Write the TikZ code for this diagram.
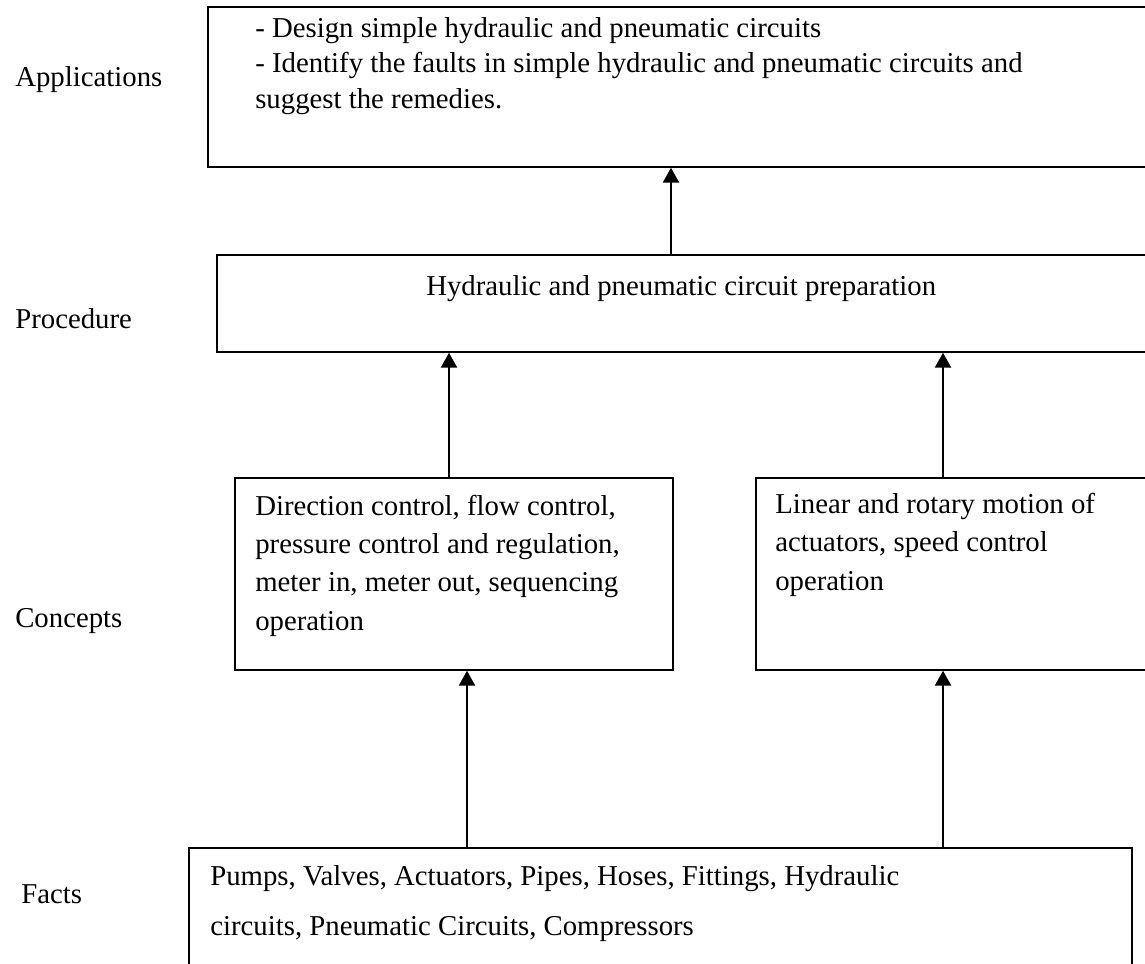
\documentclass[tikz,border=0pt]{standalone}
\usepackage{fontspec}
\setmainfont{Liberation Serif}
\usetikzlibrary{arrows.meta}
\tikzset{box/.style={draw,line width=1.2pt,anchor=north west,inner sep=0pt},txt/.style={anchor=base west,inner sep=0pt,align=left,font=\fontsize{20.8}{25.6}\selectfont},up/.style={line width=2pt,-{Triangle[length=3.8mm,width=4mm]}}}

\begin{document}
\begin{tikzpicture}[x=1in,y=-1in]
\path[use as bounding box] (0,0) rectangle (11.45,9.64);
\clip (0,0) rectangle (11.45,9.64);
\node[txt] (lapp) at (0.15,0.867) {Applications};
\node[txt] (lproc) at (0.15,3.28) {Procedure};
\node[txt] (lcon) at (0.15,6.27) {Concepts};
\node[txt] (lfact) at (0.21,9.03) {Facts};
\node[box,minimum width=9.9in,minimum height=1.6in] (apps) at (2.07,0.06) {};
\node[box,minimum width=9.8in,minimum height=0.97in] (proc) at (2.16,2.54) {};
\node[box,minimum width=4.38in,minimum height=1.92in] (conL) at (2.34,4.77) {};
\node[box,minimum width=4.4in,minimum height=1.92in] (conR) at (7.55,4.77) {};
\node[box,minimum width=9.43in,minimum height=1.6in] (facts) at (1.88,8.47) {};
% multi-line texts: base anchor sits on the last line
\node[txt] (tapp) at (2.55,1.083) {- Design simple hydraulic and pneumatic circuits\\- Identify the faults in simple hydraulic and pneumatic circuits and\\suggest the remedies.};
\node[txt] (tproc) at (4.26,2.95) {Hydraulic and pneumatic circuit preparation};
\node[txt,font=\fontsize{20.8}{27.7}\selectfont] (tconL) at (2.55,6.30) {Direction control, flow control,\\pressure control and regulation,\\meter in, meter out, sequencing\\operation};
\node[txt,font=\fontsize{20.8}{27.7}\selectfont] (tconR) at (7.75,5.90) {Linear and rotary motion of\\actuators, speed control\\operation};
\node[txt,font=\fontsize{20.8}{36}\selectfont] (tfact) at (2.10,9.35) {Pumps, Valves, Actuators, Pipes, Hoses, Fittings, Hydraulic\\circuits, Pneumatic Circuits, Compressors};
\draw[up] ([xshift=4.55in]proc.north west) -- ([xshift=4.55in]proc.north west |- apps.south);
\draw[up] ([xshift=2.15in]conL.north west) -- ([xshift=2.15in]conL.north west |- proc.south);
\draw[up] ([xshift=1.88in]conR.north west) -- ([xshift=1.88in]conR.north west |- proc.south);
\draw[up] ([xshift=2.79in]facts.north west) -- ([xshift=2.79in]facts.north west |- conL.south);
\draw[up] ([xshift=7.55in]facts.north west) -- ([xshift=7.55in]facts.north west |- conR.south);
\end{tikzpicture}
\end{document}
